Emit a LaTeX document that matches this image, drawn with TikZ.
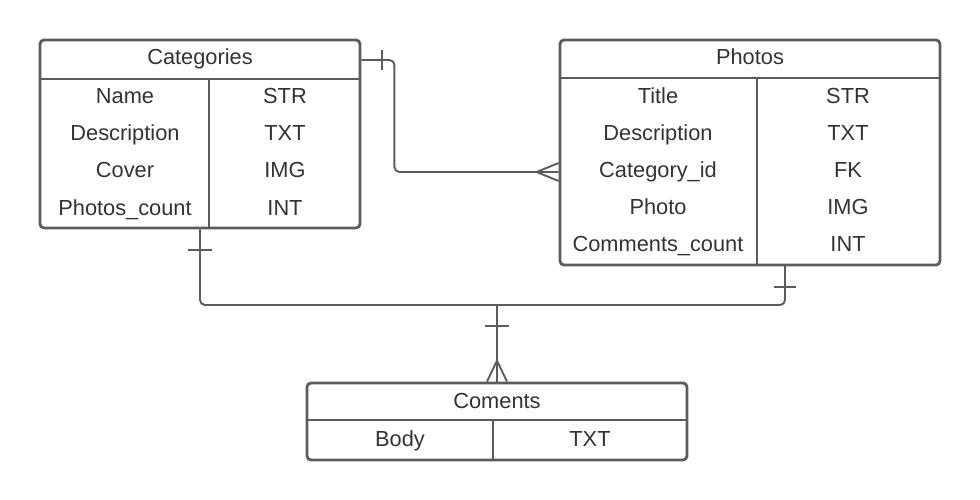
\documentclass[tikz,border=0pt]{standalone}
\usepackage{fontspec}
\setmainfont{Liberation Sans}
\usepackage{xcolor}
\usetikzlibrary{positioning, calc}
\definecolor{lin}{HTML}{5C5C5C}
\definecolor{txt}{HTML}{333333}

\begin{document}
\begin{tikzpicture}[x=1pt, y=-1pt,
			every node/.style={font=\fontsize{21.8}{25}\selectfont, text=txt, inner sep=0pt,
				text height=16pt, text depth=5pt},
			tbl/.style={draw=lin, line width=2.8pt, rounded corners=4pt, fill=white},
			sep/.style={draw=lin, line width=2.8pt},
			rel/.style={draw=lin, line width=1.9pt}]
			\useasboundingbox (0,0) rectangle (980,500);
			% tables
			\node[tbl, minimum width=320pt, minimum height=188pt] (cat) at (200,134) {};
			\node[tbl, minimum width=380pt, minimum height=225pt] (ph)  at (750,152.5) {};
			\node[tbl, minimum width=380pt, minimum height=77pt]  (com) at (497,421.5) {};
			\draw[sep] (40,79) -- (360,79) (209,79) -- (209,228);
			\draw[sep] (560,78) -- (940,78) (757,78) -- (757,265);
			\draw[sep] (307,420) -- (687,420) (493,420) -- (493,460);
			\node (catH) at (200,59.5) {Categories};
			\node (phH)  at (750,59.5) {Photos};
			\node (comH) at (497,402.5) {Coments};
			\foreach \n/\t [count=\i] in {Name/STR, Description/TXT, Cover/IMG, Photos\_count/INT} {
				\node (cn\i) at (125,{98.5+(\i-1)*37}) {\n};
				\node (ct\i) at (285,{98.5+(\i-1)*37}) {\t};
			}
			\foreach \n/\t [count=\i] in {Title/STR, Description/TXT, Category\_id/FK, Photo/IMG, Comments\_count/INT} {
				\node (pn\i) at (658,{98.5+(\i-1)*36.8}) {\n};
				\node (pt\i) at (848,{98.5+(\i-1)*36.8}) {\t};
			}
			\node (bn) at (400,440.5) {Body};
			\node (bt) at (590,440.5) {TXT};
			% relations
			\coordinate (catR) at (200,60 -| cat.east);
			\coordinate (phL)  at (658,172 -| ph.west);
			\coordinate (phB)  at (785,265);
			\coordinate (busL) at (200,305);
			\coordinate (busR) at (785,305);
			\draw[rel, rounded corners=5pt] (catR) -- ++(33,0) |- (phL);
			\draw[rel] ($(catR)+(21,-10)$) -- ++(0,20);
			\draw[rel] (phL) ++(-22,0) -- ++(22,-9) (phL) ++(-22,0) -- ++(22,9);
			\draw[rel, rounded corners=5pt] (cat.south) -- (busL) -- (busR) -- (phB);
			\draw[rel] ($(cat.south)+(-12,21)$) -- ++(24,0);
			\draw[rel] ($(phB)+(-11,22)$) -- ++(22,0);
			\draw[rel] (com.north |- busL) -- (com.north);
			\draw[rel] ($(com.north)+(-12,-56)$) -- ++(24,0);
			\draw[rel] (com.north) ++(0,-21) -- ++(-10,21) (com.north) ++(0,-21) -- ++(10,21);
		\end{tikzpicture}
\end{document}
